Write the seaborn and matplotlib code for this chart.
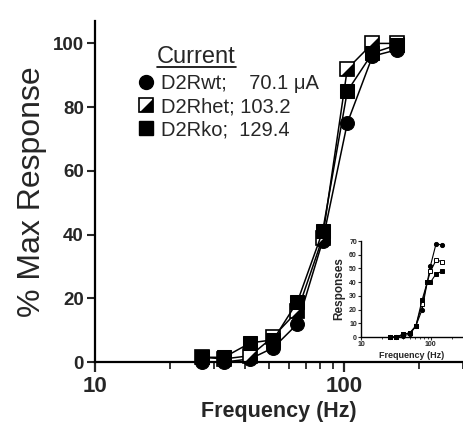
import matplotlib
matplotlib.use('Agg')
import matplotlib.pyplot as plt
import seaborn as sns
import pandas as pd
from matplotlib.lines import Line2D
from matplotlib.ticker import LogLocator, NullFormatter, FixedLocator

# main chart: % of max response vs stimulation frequency
freq = [27, 33, 42, 52, 65, 82, 103, 130, 163]
wt = [0, 0, 1, 4.5, 12, 38, 75, 96, 98]
het = [1.5, 1, 2, 8, 16, 39, 92, 100, 100]
ko = [1.5, 1.5, 6, 7, 19, 41, 85, 97, 99.5]

# inset: absolute responses
freq_in = [26, 32, 40, 50, 61, 75, 89, 99, 119, 147]
wt_in = [0, 0, 1, 2, 8, 20, 40, 52, 68, 67]
het_in = [0, 0, 2, 3, 8, 24, 40, 48, 56, 55]
ko_in = [0, 0, 2, 3, 8, 27, 40, 40, 46, 48]

legend_labels = ['D2Rwt;    70.1 μA', 'D2Rhet; 103.2', 'D2Rko;  129.4']

sns.set_style('ticks')
plt.rcParams['font.family'] = ['Liberation Sans', 'DejaVu Sans']

df = pd.DataFrame({'freq': freq, 'wt': wt, 'het': het, 'ko': ko})
dfi = pd.DataFrame({'freq': freq_in, 'wt': wt_in, 'het': het_in, 'ko': ko_in})

tri = [(-1, -1), (1, -1), (1, 1), (-1, -1)]

fig = plt.figure(figsize=(4.63, 4.22), dpi=100)
ax = fig.add_axes([0.205, 0.142, 0.795, 0.808])

ms = 10
sns.lineplot(data=df, x='freq', y='wt', ax=ax, color='black', lw=1.1, marker='o',
             markersize=ms, markerfacecolor='black', markeredgecolor='black', clip_on=False)
sns.lineplot(data=df, x='freq', y='het', ax=ax, color='black', lw=1.1, marker='s',
             markersize=ms, markerfacecolor='white', markeredgecolor='black', markeredgewidth=1.2,
             clip_on=False)
ax.plot(df['freq'], df['het'], ls='none', marker=tri, markersize=ms, color='black',
        markeredgewidth=0, clip_on=False, zorder=3)
sns.lineplot(data=df, x='freq', y='ko', ax=ax, color='black', lw=1.1, marker='s',
             markersize=ms, markerfacecolor='black', markeredgecolor='black', clip_on=False)

ax.set_xscale('log')
ax.set_xlim(10, 300)
ax.set_ylim(0, 107)
ax.set_yticks([0, 20, 40, 60, 80, 100])
ax.xaxis.set_major_locator(FixedLocator([10, 100]))
ax.xaxis.set_minor_locator(LogLocator(base=10, subs=range(2, 10)))
ax.xaxis.set_minor_formatter(NullFormatter())
ax.set_xticklabels(['10', '100'])
for s in ['top', 'right']:
    ax.spines[s].set_visible(False)
for s in ['left', 'bottom']:
    ax.spines[s].set_linewidth(1.6)
    ax.spines[s].set_color('black')
ax.tick_params(axis='y', which='major', length=6, width=1.5, labelsize=13.5, pad=2)
ax.tick_params(axis='x', which='major', length=7, width=1.6, labelsize=16, pad=3)
ax.tick_params(axis='x', which='minor', length=5, width=1.3)
for lab in ax.get_xticklabels() + ax.get_yticklabels():
    lab.set_fontweight('bold')
ax.set_xlabel('Frequency (Hz)', fontsize=15.5, fontweight='bold', labelpad=3)
ax.set_ylabel('% Max Response', fontsize=23, labelpad=4)

handles = [
    Line2D([], [], ls='none', marker='o', markersize=ms, color='black'),
    (Line2D([], [], ls='none', marker='s', markersize=ms, markerfacecolor='white',
            markeredgecolor='black', markeredgewidth=1.2),
     Line2D([], [], ls='none', marker=tri, markersize=ms, color='black', markeredgewidth=0)),
    Line2D([], [], ls='none', marker='s', markersize=ms, color='black'),
]
leg = ax.legend(handles, legend_labels, loc='upper left', bbox_to_anchor=(0.09, 0.873),
                frameon=False, fontsize=14.5, handlelength=0.8, handletextpad=0.35,
                labelspacing=0.2, borderpad=0.0)

title = ax.text(0.168, 0.896, 'Current', transform=ax.transAxes, fontsize=17,
                ha='left', va='center')

# inset
axi = fig.add_axes([0.780, 0.2014, 0.22, 0.2275])
for col, mk, fc in [('wt', 'o', 'black'), ('het', 's', 'white'), ('ko', 's', 'black')]:
    sns.lineplot(data=dfi, x='freq', y=col, ax=axi, color='black', lw=0.8, marker=mk,
                 markersize=3, markerfacecolor=fc, markeredgecolor='black',
                 markeredgewidth=0.7, clip_on=False)
axi.set_xscale('log')
axi.set_xlim(10, 290)
axi.set_ylim(0, 70)
axi.set_yticks(range(0, 71, 10))
axi.xaxis.set_major_locator(FixedLocator([10, 100]))
axi.xaxis.set_minor_locator(LogLocator(base=10, subs=range(2, 10)))
axi.xaxis.set_minor_formatter(NullFormatter())
axi.set_xticklabels(['10', '100'])
for s in ['top', 'right']:
    axi.spines[s].set_visible(False)
for s in ['left', 'bottom']:
    axi.spines[s].set_linewidth(1.0)
    axi.spines[s].set_color('black')
axi.tick_params(axis='both', which='major', length=2, width=0.8, labelsize=5, pad=1)
axi.tick_params(axis='x', which='minor', length=1.5, width=0.6)
for lab in axi.get_xticklabels() + axi.get_yticklabels():
    lab.set_fontweight('bold')
axi.set_xlabel('Frequency (Hz)', fontsize=6.5, fontweight='bold', labelpad=2)
axi.set_ylabel('Responses', fontsize=8.5, fontweight='bold', labelpad=3)

# underline "Current"
fig.canvas.draw()
bb = title.get_window_extent()
y_line = bb.y0 + 1
fig.add_artist(Line2D([bb.x0, bb.x1], [y_line, y_line], transform=None,
                      color='black', lw=1.2))

fig.savefig('out.png', dpi=100)
